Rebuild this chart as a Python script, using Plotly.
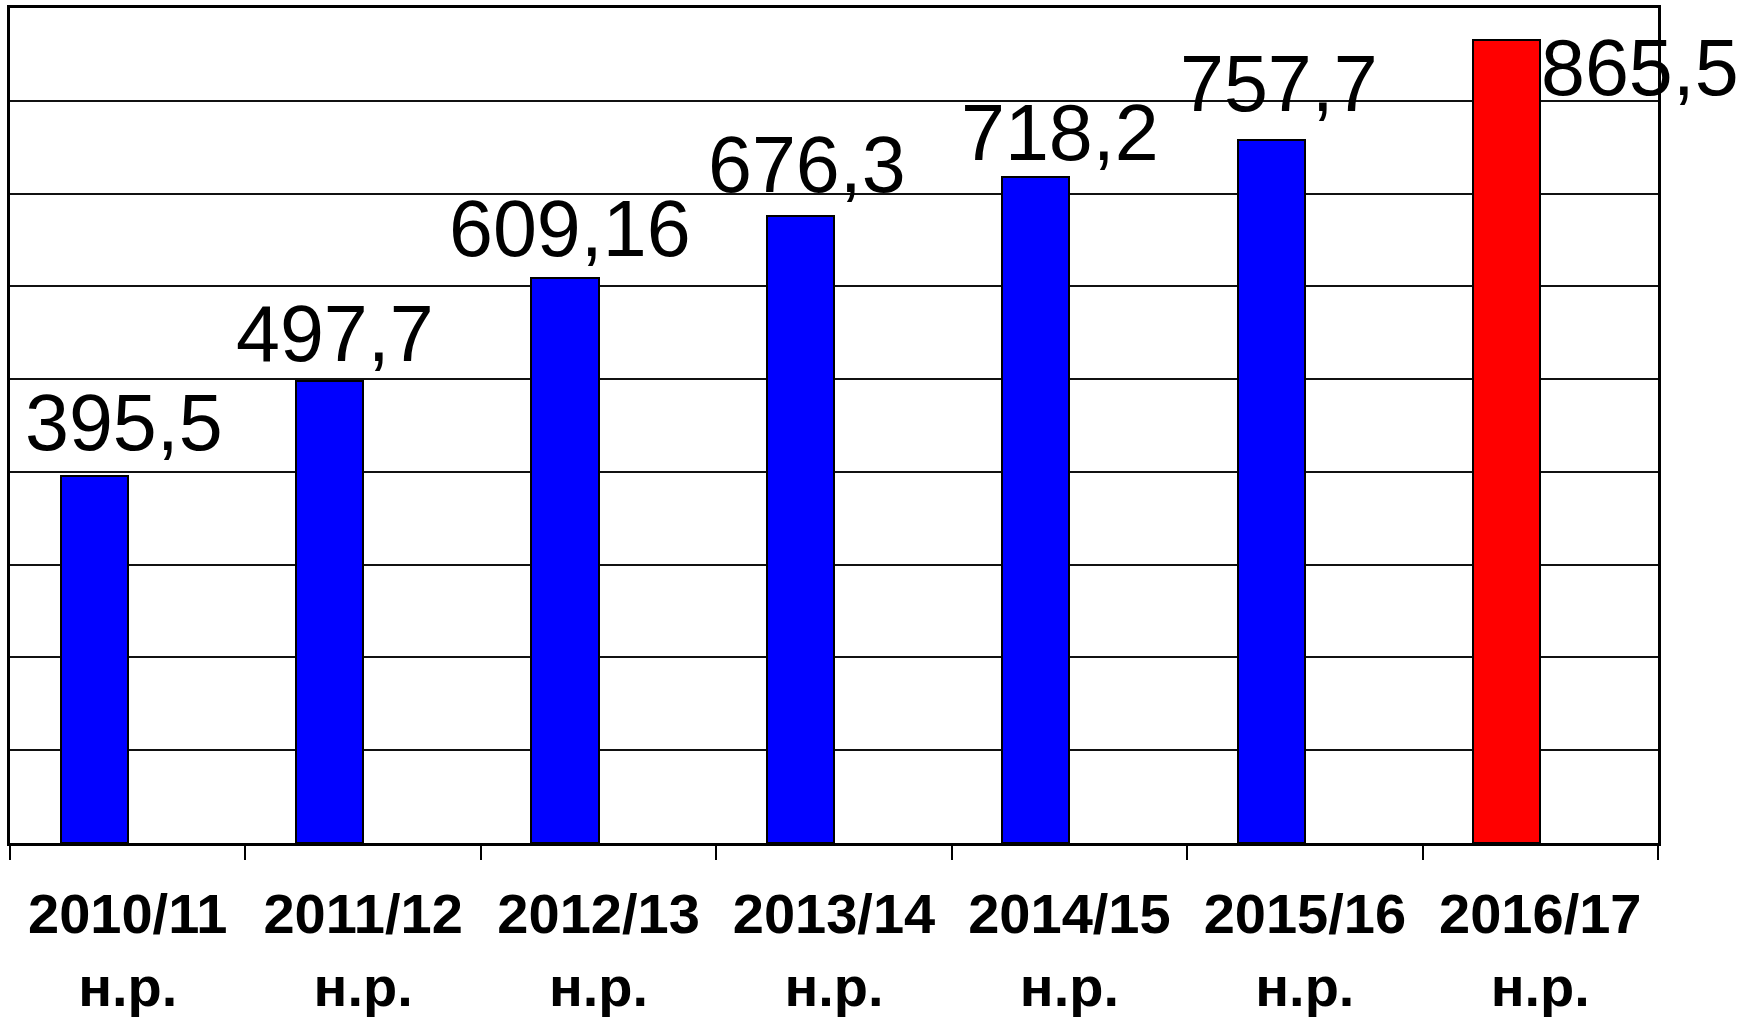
import plotly.graph_objects as go

# Academic years and values
seasons = ["2010/11", "2011/12", "2012/13", "2013/14", "2014/15", "2015/16", "2016/17"]
season_suffix = "н.р."
values = [395.5, 497.7, 609.16, 676.3, 718.2, 757.7, 865.5]
value_labels = ["395,5", "497,7", "609,16", "676,3", "718,2", "757,7", "865,5"]
bar_colors = ["#0000FF", "#0000FF", "#0000FF", "#0000FF", "#0000FF", "#0000FF", "#FF0000"]

# Pixel nudges for the value labels (relative to category centre / bar top)
label_dx = [-4, -28, -29, -27, -9, -26, 100]
label_dy = [54, 48, 49, 51, 44, 57, -27]

fig = go.Figure()
fig.add_trace(go.Bar(
    x=seasons,
    y=values,
    width=0.285,
    offset=-0.285,
    marker=dict(color=bar_colors, line=dict(color="#000000", width=2)),
    hoverinfo="skip",
    showlegend=False,
))

for s, v, t, dx, dy in zip(seasons, values, value_labels, label_dx, label_dy):
    fig.add_annotation(
        x=s, y=v, text=t, showarrow=False,
        xshift=dx, yshift=dy,
        xanchor="center", yanchor="middle",
        font=dict(family="Liberation Sans, Arial", size=79, color="#000000"),
    )

fig.update_layout(
    width=1750, height=1017,
    margin=dict(l=10, r=92, t=8, b=174),
    paper_bgcolor="#FFFFFF",
    plot_bgcolor="#FFFFFF",
    font=dict(family="Liberation Sans, Arial", color="#000000"),
    bargap=0.0,
)

fig.update_xaxes(
    type="category",
    tickvals=seasons,
    ticktext=[f"<b>{s}</b><br><b>{season_suffix}</b>" for s in seasons],
    tickfont=dict(family="Liberation Sans, Arial", size=56, color="#000000"),
    ticklabelstandoff=20,
    automargin=False,
    showline=True, linecolor="#000000", linewidth=3, mirror=True,
    ticks="outside", tickson="boundaries", ticklen=14, tickwidth=2, tickcolor="#000000",
    showgrid=False,
    range=[-0.5, 6.5],
)

fig.update_yaxes(
    range=[0, 900],
    dtick=100,
    showticklabels=False,
    ticks="",
    automargin=False,
    showgrid=True, gridcolor="#111111", gridwidth=2,
    zeroline=False,
    showline=True, linecolor="#000000", linewidth=3, mirror=True,
)

fig.write_html("out.html")
